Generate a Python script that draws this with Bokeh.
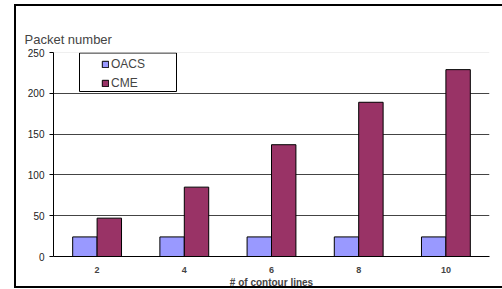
from bokeh.plotting import figure
from bokeh.models import ColumnDataSource, FactorRange, Span, Legend, LegendItem, FixedTicker, Title, BoxAnnotation
from bokeh.transform import dodge
from bokeh.embed import file_html
from bokeh.resources import INLINE

categories = ["2", "4", "6", "8", "10"]
oacs = [24, 24, 24, 24, 24]
cme = [47, 85, 137, 189, 229]
y_ticks = [0, 50, 100, 150, 200, 250]
grid_ticks = [50, 100, 150, 200]

FONT = "Liberation Sans"

src = ColumnDataSource(dict(cat=categories, oacs=oacs, cme=cme))

p = figure(x_range=FactorRange(*categories, range_padding=0), y_range=(0, 250),
           width=488, height=284, output_backend="svg", toolbar_location=None,
           min_border_left=37, min_border_right=15, min_border_top=46, min_border_bottom=30)
p.margin = (4, 0, 0, 14)
p.styles = {"border-left": "2px solid black", "border-top": "2px solid black",
            "border-bottom": "2px solid black", "box-sizing": "border-box"}

r1 = p.vbar(x=dodge("cat", -0.14, range=p.x_range), top="oacs", width=0.28, source=src,
            fill_color="#9999FF", line_color="black", line_width=1)
r2 = p.vbar(x=dodge("cat", 0.14, range=p.x_range), top="cme", width=0.28, source=src,
            fill_color="#993366", line_color="black", line_width=1)

p.outline_line_color = None
p.xgrid.grid_line_color = None
p.ygrid.ticker = FixedTicker(ticks=grid_ticks)
p.ygrid.grid_line_color = "#444444"
p.ygrid.level = "underlay"
p.add_layout(Span(location=250, dimension="width", line_color="#e0e0e0", line_width=1, level="underlay"))

# legend frame box (decoration, screen pixels inside the plot area)
p.add_layout(BoxAnnotation(left=26, right=123, top=203.5, bottom=165,
                           left_units="screen", right_units="screen",
                           top_units="screen", bottom_units="screen",
                           fill_color="white", fill_alpha=1, line_color="black",
                           line_width=1, line_alpha=1))

ya = p.yaxis[0]
ya.ticker = FixedTicker(ticks=y_ticks)
ya.axis_line_color = "black"
ya.major_tick_line_color = "black"
ya.major_tick_out = 4
ya.major_tick_in = 0
ya.minor_tick_line_color = None
ya.major_label_text_font = FONT
ya.major_label_text_font_size = "10px"
ya.major_label_text_color = "#222222"
ya.major_label_standoff = 5

xa = p.xaxis[0]
xa.axis_line_color = "black"
xa.major_tick_line_color = None
xa.minor_tick_line_color = None
xa.major_label_text_font = FONT
xa.major_label_text_font_size = "9px"
xa.major_label_text_font_style = "bold"
xa.major_label_standoff = 4
xa.axis_label = "# of contour lines"
xa.axis_label_text_font = FONT
xa.axis_label_text_font_size = "10px"
xa.axis_label_text_font_style = "bold"
xa.axis_label_standoff = 1

p.add_layout(Title(text="Packet number", align="left", text_font=FONT, text_font_size="13px",
                   text_font_style="normal", offset=-29, standoff=12), "above")

legend = Legend(items=[LegendItem(label="OACS", renderers=[r1]), LegendItem(label="CME", renderers=[r2])],
                location=(48, 165), margin=0, padding=2, spacing=3,
                glyph_width=8, glyph_height=8, label_height=16, label_standoff=2,
                label_text_font=FONT, label_text_font_size="12px",
                border_line_color=None, background_fill_alpha=0)
p.add_layout(legend, "center")

open("out.html", "w").write(file_html(p, INLINE))
